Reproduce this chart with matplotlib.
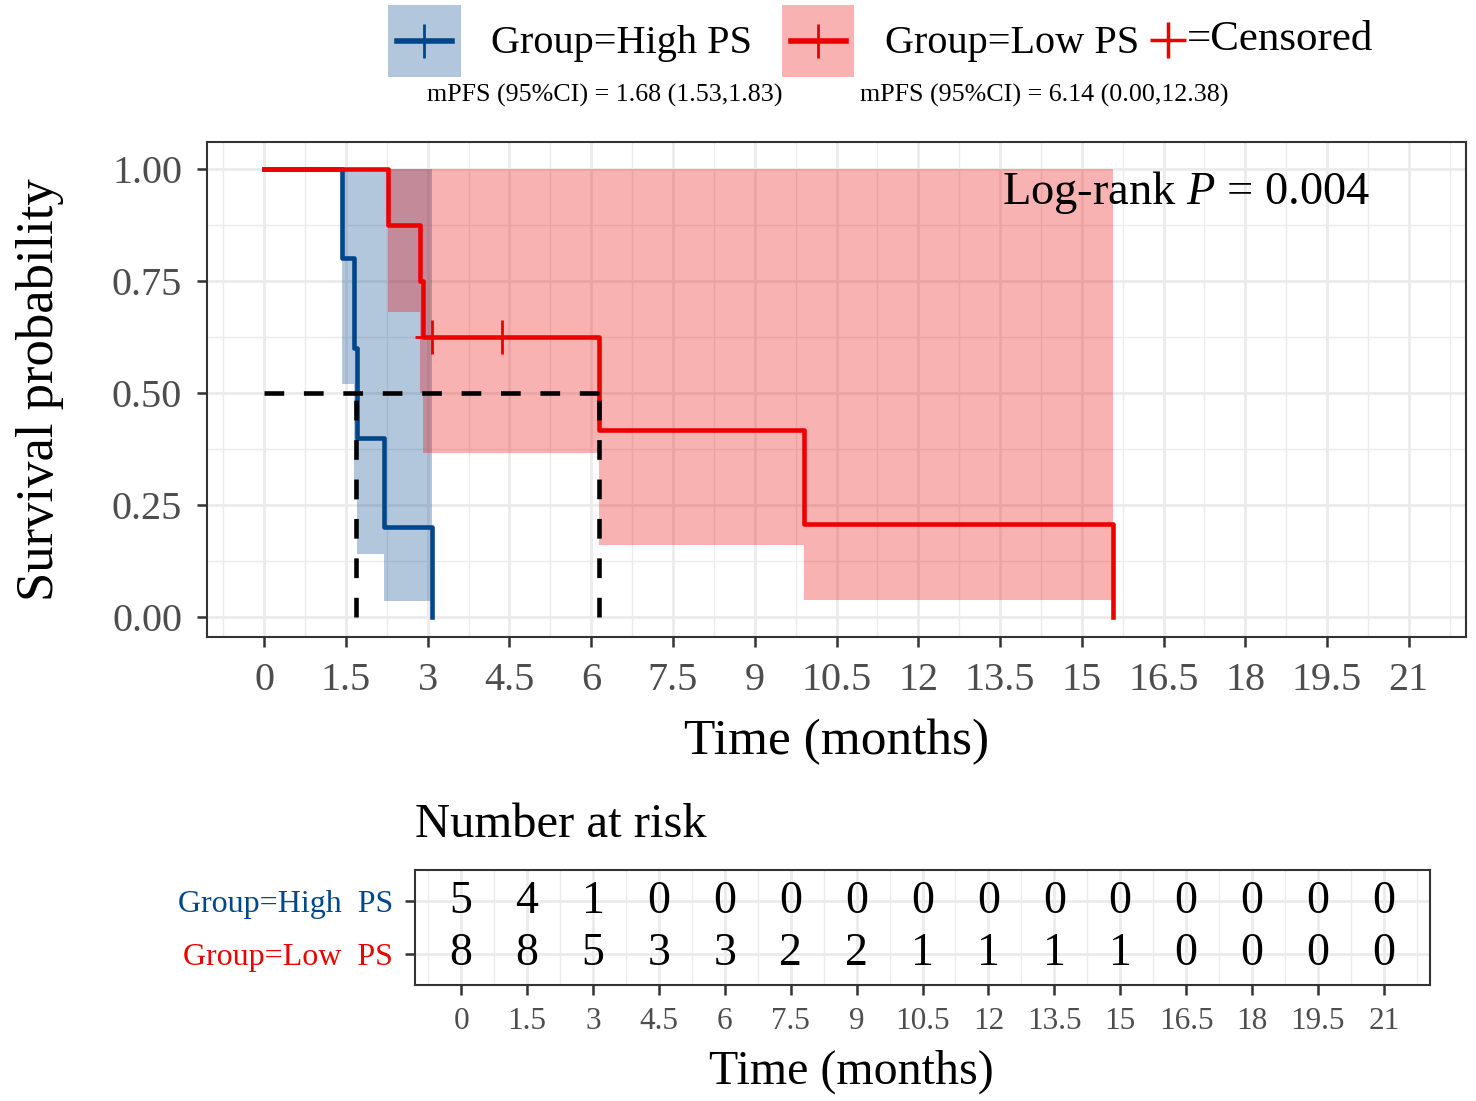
import matplotlib

matplotlib.use("Agg")
import matplotlib.pyplot as plt  # noqa: E402
import numpy as np  # noqa: E402
from matplotlib.colors import to_rgba  # noqa: E402
from matplotlib.legend_handler import HandlerLine2D, HandlerTuple  # noqa: E402
from matplotlib.lines import Line2D  # noqa: E402
from matplotlib.patches import Patch  # noqa: E402
from matplotlib.ticker import FixedLocator, FormatStrFormatter, MultipleLocator  # noqa: E402

plt.rcParams["font.family"] = ["Liberation Serif", "DejaVu Serif"]
plt.rcParams["mathtext.fontset"] = "custom"
plt.rcParams["mathtext.rm"] = "Liberation Serif"
plt.rcParams["mathtext.it"] = "Liberation Serif:italic"

BLUE = "#00468B"
RED = "#ED0000"
GRID = "#EBEBEB"
DARK = "#333333"

# KM steps (time in months)
high_time = [0, 1.42, 1.64, 1.70, 2.20, 3.07]
high_surv = [1.0, 0.8, 0.6, 0.4, 0.2, 0.0]
high_lower = [1.0, 0.52, 0.26, 0.14, 0.035, 0.035]
high_upper = [1.0, 1.0, 1.0, 1.0, 1.0, 1.0]

low_time = [0, 2.28, 2.86, 2.91, 6.14, 9.91, 15.57]
low_surv = [1.0, 0.875, 0.75, 0.625, 0.417, 0.208, 0.0]
low_lower = [1.0, 0.68, 0.50, 0.365, 0.16, 0.038, 0.038]
low_upper = [1.0, 1.0, 1.0, 1.0, 1.0, 1.0, 1.0]

low_cens_time = [3.07, 4.37]
low_cens_surv = [0.625, 0.625]

medians = [1.68, 6.14]

time_ticks = [0, 1.5, 3, 4.5, 6, 7.5, 9, 10.5, 12, 13.5, 15, 16.5, 18, 19.5, 21]
risk_high = [5, 4, 1, 0, 0, 0, 0, 0, 0, 0, 0, 0, 0, 0, 0]
risk_low = [8, 8, 5, 3, 3, 2, 2, 1, 1, 1, 1, 0, 0, 0, 0]
group_labels = ["Group=High  PS", "Group=Low  PS"]
mpfs_labels = ["mPFS (95%CI) = 1.68 (1.53,1.83)", "mPFS (95%CI) = 6.14 (0.00,12.38)"]

W, H = 1476, 1101
DASH = (0, (4.3, 4.3))


class CenteredLine(HandlerLine2D):
    """Legend line centred in the key box with a small side margin (ggplot-like)."""

    def create_artists(self, legend, orig_handle, xdescent, ydescent,
                       width, height, fontsize, trans):
        arts = super().create_artists(legend, orig_handle, xdescent, ydescent,
                                      width, height, fontsize, trans)
        yc = height / 2 - ydescent
        for a in arts:
            n = len(a.get_xdata())
            a.set_ydata([yc] * n)
            if n >= 2:
                a.set_xdata(np.linspace(-xdescent + 0.12 * width,
                                        -xdescent + 0.88 * width, n))
        return arts


def bw_style(ax, tick_size, pad):
    ax.set_facecolor("white")
    for sp in ax.spines.values():
        sp.set_color(DARK)
        sp.set_linewidth(1.5)
    ax.set_axisbelow(True)
    ax.grid(True, which="major", color=GRID, lw=2.0)
    ax.grid(True, which="minor", color=GRID, lw=1.0)
    ax.tick_params(which="major", length=7, width=1.8, color=DARK,
                   labelsize=tick_size, labelcolor="#4D4D4D", pad=pad)
    ax.tick_params(which="minor", length=0)


fig = plt.figure(figsize=(W / 100, H / 100), dpi=100)

# ---- survival curves
ax = fig.add_axes([207 / W, 1 - 637 / H, (1466 - 207) / W, (637 - 142) / H])
bw_style(ax, 29, 11)

ax.fill_between(high_time, high_lower, high_upper, step="post",
                color=BLUE, alpha=0.3, lw=0)
ax.fill_between(low_time, low_lower, low_upper, step="post",
                color=RED, alpha=0.3, lw=0)
ax.step(high_time, high_surv, where="post", color=BLUE, lw=3.3)
ax.step(low_time, low_surv, where="post", color=RED, lw=3.3)
ax.plot(low_cens_time, low_cens_surv, ls="none", marker="+", color=RED,
        ms=24, mew=2)

# median lines
ax.plot([0, max(medians)], [0.5, 0.5], color="black", lw=3.3, ls=DASH)
for m in medians:
    ax.plot([m, m], [0, 0.5], color="black", lw=3.3, ls=DASH)

ax.set_xlim(-1.05, 22.05)
ax.set_ylim(-0.045, 1.06)
ax.xaxis.set_major_locator(FixedLocator(time_ticks))
ax.xaxis.set_minor_locator(MultipleLocator(0.75))
ax.xaxis.set_major_formatter(FormatStrFormatter("%g"))
ax.yaxis.set_major_locator(MultipleLocator(0.25))
ax.yaxis.set_minor_locator(MultipleLocator(0.125))
ax.yaxis.set_major_formatter(FormatStrFormatter("%.2f"))
ax.set_xlabel("Time (months)", fontsize=37, labelpad=14)
ax.set_ylabel("Survival probability", fontsize=38, labelpad=34)
ax.text(0.924, 0.897, r"Log-rank $\mathit{P}$ = 0.004", transform=ax.transAxes,
        ha="right", va="center", fontsize=33.5)

# ---- legend
h_high = (Patch(facecolor=to_rgba(BLUE, 0.3), lw=0),
          Line2D([], [], color=BLUE, lw=4, marker="+", ms=24, mew=2))
h_low = (Patch(facecolor=to_rgba(RED, 0.3), lw=0),
         Line2D([], [], color=RED, lw=4, marker="+", ms=24, mew=2))
fig.legend([h_high, h_low], ["Group=High PS", "Group=Low PS"],
           handler_map={tuple: HandlerTuple(ndivide=1), Line2D: CenteredLine()},
           loc="upper left", bbox_to_anchor=(388 / W, 1 - 5 / H), ncol=2,
           frameon=False, fontsize=29, handlelength=1.8, handleheight=2.37,
           handletextpad=0.75, columnspacing=0.75, borderpad=0, borderaxespad=0)
fig.add_artist(Line2D([1168 / W], [1 - 40 / H], transform=fig.transFigure,
                      ls="none", marker="+", color=RED, ms=26, mew=2.5))
fig.text(1187 / W, 1 - 40 / H, "=Censored", fontsize=31, va="center")
fig.text(427 / W, 1 - 95 / H, mpfs_labels[0], fontsize=18.7, va="center")
fig.text(860 / W, 1 - 95 / H, mpfs_labels[1], fontsize=18.7, va="center")

# ---- number at risk table
tab = fig.add_axes([415 / W, 1 - 985 / H, (1430 - 415) / W, (985 - 870) / H])
bw_style(tab, 22.5, 9)
for t, n in zip(time_ticks, risk_high):
    tab.text(t, 2, str(n), ha="center", va="center", fontsize=33)
for t, n in zip(time_ticks, risk_low):
    tab.text(t, 1, str(n), ha="center", va="center", fontsize=33)
tab.set_xlim(-1.05, 22.05)
tab.set_ylim(0.4, 2.6)
tab.xaxis.set_major_locator(FixedLocator(time_ticks))
tab.xaxis.set_minor_locator(MultipleLocator(0.75))
tab.xaxis.set_major_formatter(FormatStrFormatter("%g"))
tab.set_yticks([2, 1])
tab.set_yticklabels(group_labels, fontsize=23)
for lbl, c in zip(tab.get_yticklabels(), [BLUE, RED]):
    lbl.set_color(c)
tab.set_xlabel("Time (months)", fontsize=34.5)
tab.xaxis.set_label_coords(0.43, -0.565)
tab.set_title("Number at risk", loc="left", fontsize=35, pad=24)

fig.savefig("out.png", dpi=100, facecolor="white")
